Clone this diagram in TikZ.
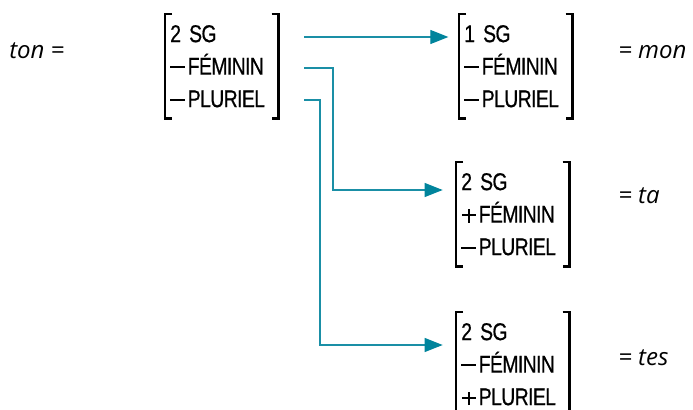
\documentclass[tikz,border=0pt]{standalone}
\usepackage{fontspec}
\setmainfont{Liberation Sans}
\newfontfamily\featfont[FakeStretch=0.8,FakeBold=0.6,LetterSpace=-2.5]{Liberation Sans}
\newfontfamily\itfont{Open Sans}
\usetikzlibrary{calc,arrows.meta}
\definecolor{teal1}{HTML}{1A8FA6}
\definecolor{teal2}{HTML}{00849C}
\newcommand{\mn}{\rule[0.27em]{0.62em}{0.07em}\hspace{0.1em}}
\newcommand{\pl}{\makebox[0.62em]{\rule[0.27em]{0.56em}{0.07em}\hspace{-0.315em}\rule[0.0em]{0.07em}{0.56em}\hspace{0.245em}}\hspace{0.1em}}
\tikzset{
  fm/.style={anchor=north west, inner xsep=3.75pt, inner ysep=0pt,
    minimum width=84.75pt, minimum height=78pt, text width=77.25pt,
    align=left, font=\featfont\fontsize{18.2}{24.4}\selectfont},
  brk/.style={line width=1.9pt, line cap=butt, line join=miter},
  arr/.style={draw=teal1, line width=0.9pt,
    -{Triangle[length=13.5pt,width=10.5pt,fill=teal2,color=teal2]}},
  lab/.style={anchor=west, inner sep=0pt, font=\itfont\itshape\fontsize{18}{20}\selectfont}
}
\begin{document}
\begin{tikzpicture}[x=0.75pt,y=-0.75pt]
\useasboundingbox (0,0) rectangle (693,410);
% feature matrices
\node[fm] (s) at (165,14) {2 SG\\\mn FÉMININ\\\mn PLURIEL};
\node[fm] (t1) at (459,14) {1 SG\\\mn FÉMININ\\\mn PLURIEL};
\node[fm] (t2) at (456,162) {2 SG\\\pl FÉMININ\\\mn PLURIEL};
\node[fm] (t3) at (456,312) {2 SG\\\mn FÉMININ\\\pl PLURIEL};
\foreach \n in {s,t1,t2,t3}{
  \draw[brk] ($(\n.north west)+(7,0)$) -- (\n.north west) -- (\n.south west) -- ++(7,0);
  \draw[brk] ($(\n.north east)+(-7,0)$) -- (\n.north east) -- (\n.south east) -- ++(-7,0);
}
% labels
\node[lab] (l0) at (9,51) {ton =};
\node[lab] (l1) at (618,52) {= mon};
\node[lab] (l2) at (618,196) {= ta};
\node[lab] (l3) at (618,358) {= tes};
% connectors
\coordinate (o1) at (304,37);
\coordinate (o2) at (304,68);
\coordinate (o3) at (304,100);
\coordinate (b2) at (333,190);
\coordinate (b3) at (320,345);
\draw[arr, shorten >=8pt] (o1) -- (t1.west |- o1);
\draw[arr, shorten >=10pt] (o2) -| (b2) -- (t2.west |- b2);
\draw[arr, shorten >=10pt] (o3) -| (b3) -- (t3.west |- b3);
\end{tikzpicture}
\end{document}
